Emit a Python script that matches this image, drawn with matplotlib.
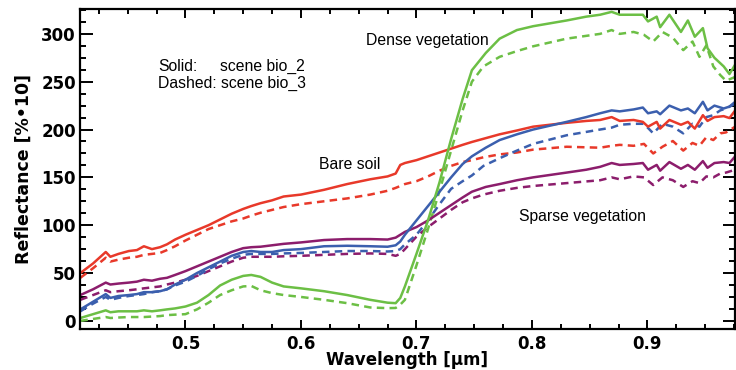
import matplotlib
matplotlib.use("Agg")
import matplotlib.pyplot as plt
from matplotlib.ticker import MultipleLocator

# ---- data (wavelength in micrometres, reflectance in %*10) ----
wl_solid = [0.409, 0.420, 0.431, 0.435, 0.442, 0.451, 0.458, 0.464, 0.471, 0.478,
            0.484, 0.491, 0.500, 0.510, 0.520, 0.530, 0.540, 0.550, 0.557, 0.565,
            0.575, 0.585, 0.600, 0.620, 0.640, 0.660, 0.675, 0.682, 0.686, 0.690,
            0.700, 0.710, 0.720, 0.730, 0.740, 0.748, 0.760, 0.772, 0.787, 0.801,
            0.830, 0.847, 0.859, 0.869, 0.876, 0.888, 0.896, 0.9005, 0.908, 0.911,
            0.919, 0.929, 0.935, 0.941, 0.948, 0.952, 0.958, 0.966, 0.971, 0.976]

soil_bio2 = [50, 60, 72, 67, 70, 73, 74, 78, 75, 77,
             80, 85, 90, 95, 100, 106, 112, 117, 120, 123,
             126, 130, 132, 137, 143, 148, 151, 154, 163, 165,
             168, 172, 176, 180, 184, 187, 191, 195, 199, 203,
             207, 209, 210, 213, 209, 210, 208, 203, 208, 201,
             210, 205, 208, 201, 215, 209, 213, 214, 212, 220]

dense_bio2 = [3, 7, 11, 9, 10, 10, 10, 11, 10, 11,
              12, 13, 15, 19, 27, 37, 43, 47, 48, 46,
              40, 36, 34, 31, 27, 22, 19, 18.5, 24, 36,
              70, 105, 145, 190, 232, 262, 280, 295, 304, 308,
              314, 318, 320, 323, 320, 320, 320, 313, 318, 307,
              320, 302, 314, 297, 306, 285, 275, 266, 258, 268]

blue_bio2 = [12, 20, 28, 24, 26, 27, 28, 30, 30, 31,
             33, 38, 43, 50, 56, 62, 68, 72, 73, 72,
             72, 74, 75, 78, 78.5, 78, 77.5, 79, 83, 90,
             105, 120, 135, 150, 164, 172, 181, 189, 195, 200,
             208, 213, 217, 220, 219, 221, 223, 217, 219, 216,
             225, 220, 222, 217, 229, 220, 225, 222, 224, 229]

sparse_bio2 = [27, 33, 40, 38, 39, 40, 41, 43, 42, 44,
               45, 48, 52, 57, 62, 67, 72, 76, 77, 77.5,
               79, 80.5, 82, 84.5, 85.5, 85.5, 85, 87, 90, 93,
               98, 105, 113, 121, 129, 135, 140, 143, 147, 150,
               155, 158, 161, 165, 163, 164, 165, 158, 163, 157,
               166, 159, 163, 158, 167, 160, 165, 166, 165, 172]

wl_dash = [0.409, 0.420, 0.431, 0.435, 0.442, 0.451, 0.458, 0.464, 0.471, 0.478,
           0.484, 0.491, 0.500, 0.510, 0.520, 0.530, 0.540, 0.550, 0.557, 0.565,
           0.575, 0.585, 0.600, 0.620, 0.640, 0.660, 0.675, 0.682, 0.686, 0.690,
           0.700, 0.710, 0.720, 0.730, 0.740, 0.748, 0.758, 0.772, 0.787, 0.801,
           0.830, 0.859, 0.869, 0.876, 0.888, 0.897, 0.905, 0.913, 0.922, 0.931,
           0.939, 0.945, 0.951, 0.957, 0.963, 0.968, 0.976]

soil_bio3 = [45, 55, 66, 62, 64, 66, 67, 69, 70, 71,
             74, 78, 84, 90, 96, 100, 104, 107, 110, 113,
             116, 119, 122, 125, 128, 132, 136, 139, 141, 143,
             146, 151, 157, 162, 166, 168, 171, 174, 176, 179,
             182, 181, 183, 184, 183, 185, 175, 182, 188, 178,
             186, 183, 192, 189, 196, 197, 203]

dense_bio3 = [0, 2, 4, 3, 3.5, 4, 4, 4, 4.5, 5,
              6, 6.5, 7, 12, 19, 27, 32, 36, 36.5, 32,
              29, 27, 25, 22, 18.5, 14, 13.3, 13.5, 17, 22,
              58, 96, 136, 178, 220, 250, 266, 276, 282, 287,
              295, 300, 304, 300, 302, 299, 292, 302, 296, 283,
              292, 276, 288, 266, 257, 251, 255]

blue_bio3 = [10, 18, 25, 22, 24, 26, 27, 28, 30, 31,
             33, 37, 41, 47, 54, 60, 65, 69, 70, 70,
             70, 70.5, 71, 72, 73, 73, 72.5, 73, 75, 80,
             90, 105, 122, 138, 146, 152, 162, 170, 178, 185,
             194, 200, 202, 205, 206, 206, 196, 206, 203, 196,
             206, 203, 213, 215, 220, 222, 227]

sparse_bio3 = [22, 27, 32, 30, 31, 32, 33, 34, 35, 36,
               38, 40, 43, 47, 52, 57, 62, 66, 67, 67,
               67, 67.5, 68, 69, 70, 70.5, 70, 68, 70, 75,
               88, 98, 107, 116, 124, 128, 132, 136, 139, 141,
               144, 147, 150, 148, 151, 150, 142, 150, 147, 140,
               146, 144, 151, 150, 154, 155, 158]

C_SOIL = "#e8392a"
C_DENSE = "#6cbf45"
C_BLUE = "#3b5fae"
C_SPARSE = "#8c1d6c"

fig = plt.figure(figsize=(7.36, 3.70), dpi=100)
ax = fig.add_axes([80 / 736, 41 / 370, 655 / 736, 320 / 370])

lw = 1.8
dash = (3.0, 2.1)
for y, c in [(soil_bio3, C_SOIL), (sparse_bio3, C_SPARSE), (blue_bio3, C_BLUE), (dense_bio3, C_DENSE)]:
    ax.plot(wl_dash, y, color=c, lw=lw, ls=(0, dash))
for y, c in [(soil_bio2, C_SOIL), (sparse_bio2, C_SPARSE), (blue_bio2, C_BLUE), (dense_bio2, C_DENSE)]:
    ax.plot(wl_solid, y, color=c, lw=lw)

ax.set_xlim(0.4087, 0.9758)
ax.set_ylim(-8.5, 326)

ax.xaxis.set_major_locator(MultipleLocator(0.1))
ax.xaxis.set_minor_locator(MultipleLocator(0.025))
ax.yaxis.set_major_locator(MultipleLocator(50))
ax.yaxis.set_minor_locator(MultipleLocator(12.5))

for s in ax.spines.values():
    s.set_linewidth(1.6)

ax.tick_params(axis="both", which="both", direction="in", top=True, right=True,
               width=1.4, colors="black")
ax.tick_params(axis="y", which="major", length=9, pad=3)
ax.tick_params(axis="y", which="minor", length=4.5)
ax.tick_params(axis="x", which="major", length=6.5, pad=4)
ax.tick_params(axis="x", which="minor", length=3.5)

ax.set_xticks([0.5, 0.6, 0.7, 0.8, 0.9])
ax.set_xticklabels(["0.5", "0.6", "0.7", "0.8", "0.9"])
ax.set_yticks([0, 50, 100, 150, 200, 250, 300])
ax.set_yticklabels(["0", "50", "100", "150", "200", "250", "300"])
for lab in ax.get_xticklabels() + ax.get_yticklabels():
    lab.set_fontfamily("DejaVu Sans")
    lab.set_fontweight("bold")
    lab.set_fontsize(12)

ax.set_xlabel("Wavelength [μm]", fontsize=12, fontweight="bold",
              family=["DejaVu Sans"], labelpad=-1)
ax.set_ylabel("Reflectance [%•10]", fontsize=12.5, fontweight="bold",
              family=["DejaVu Sans"], labelpad=6)

tf = dict(fontsize=11.3, family=["Liberation Sans", "DejaVu Sans"], ha="left", va="baseline")
ax.text(0.4762, 261.5, "Solid:", **tf)
ax.text(0.5299, 261.5, "scene bio_2", **tf)
ax.text(0.4762, 243.5, "Dashed: scene bio_3", **tf)
ax.text(0.6563, 288, "Dense vegetation", **tf)
ax.text(0.6153, 158.3, "Bare soil", **tf)
ax.text(0.7885, 104.5, "Sparse vegetation", **tf)

fig.savefig("out.png", dpi=100)
